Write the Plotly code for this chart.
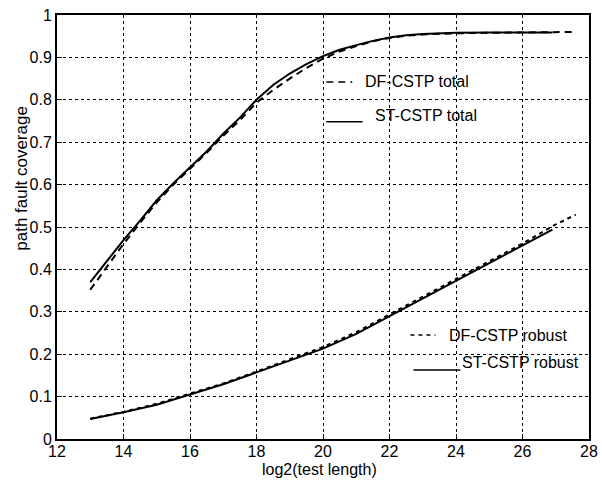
import plotly.graph_objects as go

# ---- data ----
st_total_x = [13, 13.5, 14, 14.5, 15, 15.5, 16, 16.5, 17, 17.5, 18, 18.5, 19, 19.5, 20, 20.5, 21, 21.5, 22, 22.5, 23, 24, 25, 26, 26.9]
st_total_y = [0.37, 0.42, 0.469, 0.515, 0.563, 0.603, 0.64, 0.678, 0.72, 0.758, 0.80, 0.835, 0.862, 0.884, 0.903, 0.918, 0.929, 0.939, 0.947, 0.952, 0.955, 0.958, 0.959, 0.959, 0.959]

df_total_x = [13, 13.5, 14, 14.5, 15, 15.5, 16, 16.5, 17, 17.5, 18, 18.5, 19, 19.5, 20, 20.5, 21, 21.5, 22, 22.5, 23, 24, 25, 26, 27, 27.5]
df_total_y = [0.352, 0.405, 0.46, 0.51, 0.558, 0.6, 0.637, 0.675, 0.715, 0.752, 0.793, 0.823, 0.85, 0.875, 0.897, 0.914, 0.927, 0.938, 0.946, 0.951, 0.954, 0.957, 0.958, 0.959, 0.96, 0.96]

st_robust_x = [13, 14, 15, 16, 17, 18, 19, 20, 21, 22, 23, 24, 25, 26, 26.9]
st_robust_y = [0.047, 0.063, 0.081, 0.105, 0.129, 0.157, 0.185, 0.213, 0.248, 0.290, 0.331, 0.373, 0.415, 0.458, 0.494]

df_robust_x = [13, 14, 15, 16, 17, 18, 19, 20, 21, 22, 23, 24, 25, 26, 27, 27.6]
df_robust_y = [0.048, 0.064, 0.083, 0.107, 0.131, 0.159, 0.188, 0.217, 0.252, 0.294, 0.335, 0.377, 0.419, 0.461, 0.506, 0.529]

x_ticks = [12, 14, 16, 18, 20, 22, 24, 26, 28]
y_ticks = [0, 0.1, 0.2, 0.3, 0.4, 0.5, 0.6, 0.7, 0.8, 0.9, 1]
y_tick_text = ["0", "0.1", "0.2", "0.3", "0.4", "0.5", "0.6", "0.7", "0.8", "0.9", "1"]

legend_labels = ["DF-CSTP total", "ST-CSTP total", "DF-CSTP robust", "ST-CSTP robust"]

FONT = "Liberation Sans, Arial, Helvetica, sans-serif"

fig = go.Figure()
fig.add_trace(go.Scatter(x=df_total_x, y=df_total_y, mode="lines",
                         line=dict(color="black", width=2, dash="7px,5px"), name=legend_labels[0]))
fig.add_trace(go.Scatter(x=st_total_x, y=st_total_y, mode="lines",
                         line=dict(color="black", width=2), name=legend_labels[1]))
fig.add_trace(go.Scatter(x=df_robust_x, y=df_robust_y, mode="lines",
                         line=dict(color="black", width=2, dash="4px,4px"), name=legend_labels[2]))
fig.add_trace(go.Scatter(x=st_robust_x, y=st_robust_y, mode="lines",
                         line=dict(color="black", width=2), name=legend_labels[3]))

# in-plot legend: sample lines + labels
samples = [
    (20.1, 20.88, 0.842, "7px,5px", 21.19, 0.842, legend_labels[0]),
    (20.1, 21.19, 0.748, "solid", 21.49, 0.764, legend_labels[1]),
    (22.63, 23.38, 0.245, "4px,4px", 23.74, 0.245, legend_labels[2]),
    (22.72, 24.13, 0.163, "solid", 24.13, 0.180, legend_labels[3]),
]
for x0, x1, yl, dash, xt, yt, label in samples:
    fig.add_shape(type="line", x0=x0, x1=x1, y0=yl, y1=yl, xref="x", yref="y",
                  line=dict(color="black", width=1.5, dash=dash))
    fig.add_annotation(x=xt, y=yt, xref="x", yref="y", text=label, showarrow=False,
                       xanchor="left", yanchor="middle",
                       font=dict(family=FONT, size=16, color="black"))

# axis titles
fig.add_annotation(x=0.494, y=-0.073, xref="paper", yref="paper", text="log2(test length)",
                   showarrow=False, xanchor="center", yanchor="middle",
                   font=dict(family=FONT, size=16, color="black"))
fig.add_annotation(x=-0.066, y=0.616, xref="paper", yref="paper", text="path fault coverage",
                   showarrow=False, xanchor="center", yanchor="middle", textangle=-90,
                   font=dict(family=FONT, size=17, color="black"))

axis_common = dict(showline=True, linecolor="black", linewidth=2, mirror=True,
                   showgrid=True, gridcolor="black", gridwidth=1, griddash="dot",
                   ticks="inside", ticklen=5, tickcolor="black", tickwidth=1,
                   zeroline=False, automargin=False,
                   tickfont=dict(family=FONT, size=16, color="black"))

fig.update_xaxes(range=[12, 28], tickvals=x_ticks, ticktext=[str(v) for v in x_ticks],
                 ticklabelstandoff=-3, **axis_common)
fig.update_yaxes(range=[0, 1], tickvals=y_ticks, ticktext=y_tick_text, **axis_common)

fig.update_layout(width=602, height=480, showlegend=False,
                  margin=dict(l=57, r=13, t=15, b=41, autoexpand=False),
                  paper_bgcolor="white", plot_bgcolor="white",
                  font=dict(family=FONT, color="black"))

fig.write_html("out.html", config={"displayModeBar": False},
               post_script="document.body.style.margin='0px';")
